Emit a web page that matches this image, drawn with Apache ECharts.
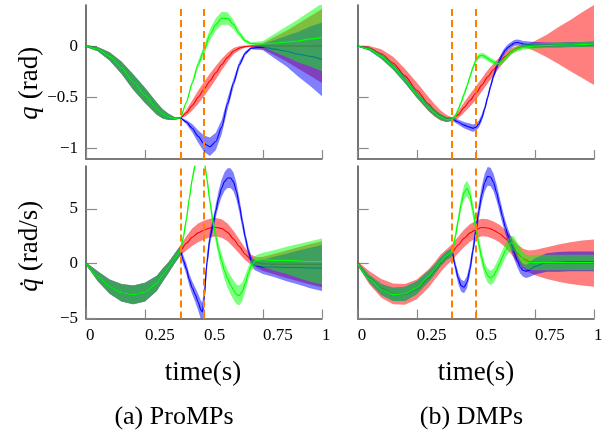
<!DOCTYPE html>
<html>
<head>
<meta charset="utf-8">
<script src="https://cdn.jsdelivr.net/npm/echarts@6/dist/echarts.min.js"></script>
<style>
html,body{margin:0;padding:0;background:#fff;}
#chart{width:611px;height:432px;}
</style>
</head>
<body>
<div id="chart"></div>
<script>
// ---------------- DATA: [time, mean, half-width] ----------------
const timeTicks = [0, 0.25, 0.5, 0.75, 1];
const qTicks = [-1, -0.5, 0];
const qdTicks = [-5, 0, 5];
const dashT = [0.4, 0.5];

// ProMPs, q (rad): identical before the split
const proQ_common = [[0,0,0.01],[0.05,-0.03,0.02],[0.1,-0.10,0.04],[0.15,-0.21,0.06],[0.2,-0.35,0.075],[0.25,-0.48,0.075],[0.3,-0.61,0.06],[0.325,-0.66,0.045],[0.35,-0.69,0.03],[0.375,-0.705,0.015]];
const proQ_red = [[0.4,-0.70,0.005],[0.425,-0.65,0.03],[0.45,-0.58,0.05],[0.475,-0.50,0.065],[0.5,-0.42,0.07],[0.525,-0.34,0.07],[0.55,-0.26,0.065],[0.575,-0.18,0.055],[0.6,-0.11,0.045],[0.625,-0.05,0.03],[0.65,-0.02,0.02],[0.675,-0.005,0.01],[0.7,0,0.008],[0.75,0,0.03],[0.8,0,0.09],[0.85,0,0.15],[0.9,0,0.22],[0.95,0,0.29],[1,0,0.36]];
const proQ_blue = [[0.4,-0.70,0.005],[0.425,-0.74,0.02],[0.45,-0.80,0.04],[0.475,-0.88,0.06],[0.5,-0.95,0.08],[0.525,-0.98,0.09],[0.55,-0.93,0.085],[0.575,-0.79,0.07],[0.6,-0.56,0.055],[0.625,-0.36,0.04],[0.65,-0.18,0.03],[0.675,-0.07,0.02],[0.7,-0.02,0.012],[0.75,-0.01,0.03],[0.8,-0.03,0.09],[0.85,-0.05,0.15],[0.9,-0.08,0.22],[0.95,-0.10,0.29],[1,-0.13,0.36]];
const proQ_green = [[0.4,-0.70,0.005],[0.425,-0.55,0.015],[0.45,-0.36,0.025],[0.475,-0.18,0.035],[0.5,-0.04,0.045],[0.525,0.11,0.055],[0.55,0.21,0.06],[0.575,0.27,0.065],[0.6,0.27,0.06],[0.625,0.21,0.045],[0.65,0.12,0.03],[0.675,0.05,0.02],[0.7,0.025,0.012],[0.75,0.02,0.03],[0.8,0.03,0.09],[0.85,0.04,0.15],[0.9,0.05,0.21],[0.95,0.07,0.27],[1,0.085,0.33]];

// ProMPs, q-dot (rad/s)
const proQd_common = [[0,0,0.1],[0.05,-1.15,0.45],[0.1,-2.1,0.65],[0.15,-2.65,0.8],[0.2,-2.85,0.85],[0.25,-2.6,0.85],[0.3,-1.8,0.7],[0.325,-1.05,0.6],[0.35,-0.35,0.5],[0.375,0.45,0.45]];
const proQd_red = [[0.4,1.2,0.45],[0.425,1.85,0.65],[0.45,2.4,0.8],[0.475,2.8,0.85],[0.5,3.05,0.85],[0.525,3.25,0.85],[0.55,3.32,0.85],[0.575,3.2,0.85],[0.6,2.85,0.8],[0.625,2.25,0.75],[0.65,1.55,0.65],[0.675,0.85,0.55],[0.7,0.35,0.45],[0.725,0.08,0.5],[0.75,-0.02,0.65],[0.8,-0.05,0.95],[0.85,-0.05,1.25],[0.9,-0.05,1.55],[0.95,-0.05,1.85],[1,-0.05,2.1]];
const proQd_blue = [[0.4,1.2,0.45],[0.4125,0.3,0.45],[0.425,-0.45,0.5],[0.4375,-1.45,0.55],[0.45,-2.2,0.6],[0.4625,-2.8,0.65],[0.475,-3.5,0.75],[0.4875,-4.25,0.85],[0.493,-4.4,0.9],[0.5,-3.3,0.85],[0.5125,0.1,0.75],[0.525,2.3,0.6],[0.5375,3.5,0.55],[0.55,4.8,0.6],[0.5625,6.0,0.7],[0.575,6.9,0.8],[0.5875,7.5,0.85],[0.6,7.8,0.9],[0.6125,7.8,0.9],[0.625,7.45,0.85],[0.6375,6.6,0.75],[0.65,5.3,0.65],[0.6625,3.8,0.55],[0.675,2.4,0.45],[0.6875,1.2,0.4],[0.7,0.3,0.4],[0.7125,-0.1,0.45],[0.725,-0.2,0.5],[0.75,-0.3,0.65],[0.8,-0.3,0.95],[0.85,-0.35,1.25],[0.9,-0.35,1.55],[0.95,-0.4,1.85],[1,-0.4,2.1]];
const proQd_green = [[0.4,1.2,0.4],[0.4125,2.4,0.4],[0.425,4.0,0.4],[0.4375,5.9,0.4],[0.45,7.7,0.4],[0.4625,9.0,0.4],[0.475,10.1,0.4],[0.4875,10.4,0.4],[0.5,9.6,0.4],[0.5125,7.7,0.45],[0.525,5.7,0.5],[0.5375,3.9,0.55],[0.55,2.5,0.6],[0.5625,1.2,0.65],[0.575,0.2,0.7],[0.5875,-0.7,0.75],[0.6,-1.4,0.8],[0.6125,-1.95,0.85],[0.625,-2.4,0.9],[0.6375,-2.8,0.9],[0.65,-2.9,0.9],[0.6625,-2.55,0.85],[0.675,-1.8,0.75],[0.6875,-0.9,0.6],[0.7,-0.2,0.5],[0.7125,0.15,0.45],[0.725,0.3,0.5],[0.75,0.35,0.65],[0.8,0.3,0.95],[0.85,0.3,1.25],[0.9,0.25,1.55],[0.95,0.2,1.85],[1,0.2,2.1]];

// DMPs, q (rad)
const dmpQ_common = [[0,0,0.005],[0.05,-0.03,0.015],[0.1,-0.10,0.025],[0.15,-0.20,0.03],[0.2,-0.33,0.03],[0.25,-0.47,0.03],[0.3,-0.60,0.03],[0.325,-0.65,0.03],[0.35,-0.69,0.028],[0.375,-0.715,0.025]];
const dmpQ_redPre = [[0,0,0.005],[0.05,-0.02,0.02],[0.1,-0.075,0.045],[0.15,-0.165,0.06],[0.2,-0.29,0.07],[0.25,-0.43,0.075],[0.3,-0.565,0.07],[0.325,-0.625,0.06],[0.35,-0.675,0.05],[0.375,-0.705,0.035]];
const dmpQ_red = [[0.4,-0.71,0.015],[0.425,-0.67,0.035],[0.45,-0.60,0.05],[0.475,-0.53,0.06],[0.5,-0.46,0.065],[0.525,-0.38,0.065],[0.55,-0.30,0.065],[0.575,-0.23,0.06],[0.6,-0.16,0.05],[0.625,-0.10,0.04],[0.65,-0.05,0.03],[0.675,-0.02,0.02],[0.7,-0.005,0.015],[0.725,0,0.025],[0.75,0,0.05],[0.8,0,0.11],[0.85,0.005,0.18],[0.9,0.005,0.25],[0.95,0.01,0.32],[1,0.01,0.39]];
const dmpQ_blue = [[0.4,-0.71,0.02],[0.425,-0.74,0.025],[0.45,-0.77,0.03],[0.475,-0.79,0.035],[0.4875,-0.80,0.035],[0.5,-0.79,0.035],[0.5125,-0.76,0.035],[0.525,-0.70,0.035],[0.5375,-0.61,0.03],[0.55,-0.50,0.03],[0.5625,-0.39,0.03],[0.575,-0.29,0.03],[0.5875,-0.21,0.03],[0.6,-0.14,0.03],[0.6125,-0.08,0.03],[0.625,-0.04,0.03],[0.6375,-0.01,0.03],[0.65,0.01,0.03],[0.6625,0.03,0.03],[0.675,0.035,0.03],[0.6875,0.03,0.03],[0.7,0.02,0.03],[0.75,0.01,0.03],[0.8,0.01,0.025],[0.85,0.01,0.025],[0.9,0.015,0.025],[0.95,0.015,0.025],[1,0.02,0.025]];
const dmpQ_green = [[0.4,-0.71,0.02],[0.4125,-0.69,0.02],[0.425,-0.62,0.025],[0.4375,-0.55,0.025],[0.45,-0.47,0.025],[0.4625,-0.39,0.025],[0.475,-0.30,0.025],[0.4875,-0.21,0.025],[0.5,-0.14,0.025],[0.5125,-0.10,0.025],[0.525,-0.09,0.025],[0.5375,-0.10,0.025],[0.55,-0.12,0.025],[0.5625,-0.14,0.025],[0.575,-0.155,0.025],[0.5875,-0.17,0.025],[0.6,-0.17,0.025],[0.6125,-0.15,0.025],[0.625,-0.12,0.025],[0.6375,-0.09,0.025],[0.65,-0.06,0.025],[0.6625,-0.04,0.025],[0.675,-0.03,0.025],[0.6875,-0.02,0.025],[0.7,-0.01,0.025],[0.75,0,0.025],[0.8,0.005,0.025],[0.85,0.01,0.025],[0.9,0.01,0.025],[0.95,0.015,0.025],[1,0.02,0.025]];

// DMPs, q-dot (rad/s)
const dmpQd_common = [[0,0,0.15],[0.05,-1.4,0.35],[0.1,-2.35,0.5],[0.15,-2.8,0.6],[0.2,-2.75,0.65],[0.25,-2.2,0.6],[0.3,-1.15,0.5],[0.325,-0.55,0.45],[0.35,0.15,0.4],[0.375,0.7,0.4]];
const dmpQd_redPre = [[0,0,0.2],[0.05,-1.3,0.6],[0.1,-2.25,0.85],[0.15,-2.75,0.95],[0.2,-2.8,0.95],[0.25,-2.35,0.9],[0.3,-1.35,0.85],[0.325,-0.7,0.8],[0.35,0.0,0.8],[0.375,0.55,0.75]];
const dmpQd_red = [[0.4,1.05,0.75],[0.425,1.7,0.75],[0.45,2.3,0.8],[0.475,2.8,0.8],[0.5,3.1,0.8],[0.525,3.3,0.8],[0.55,3.25,0.8],[0.575,3.05,0.8],[0.6,2.75,0.8],[0.625,2.3,0.8],[0.65,1.65,0.8],[0.675,0.95,0.85],[0.7,0.45,0.9],[0.725,0.2,1.0],[0.75,0.1,1.15],[0.8,0.05,1.45],[0.85,0.05,1.7],[0.9,0.05,1.9],[0.95,0.05,2.05],[1,0.05,2.15]];
const dmpQd_blue = [[0.4,1.05,0.4],[0.4125,-0.2,0.45],[0.425,-1.3,0.5],[0.4375,-2.0,0.55],[0.45,-2.15,0.55],[0.4625,-1.7,0.55],[0.475,-0.5,0.55],[0.4875,1.2,0.6],[0.5,3.0,0.65],[0.5125,4.8,0.7],[0.525,6.3,0.75],[0.5375,7.4,0.8],[0.55,7.95,0.85],[0.5625,7.9,0.85],[0.575,7.4,0.8],[0.5875,6.5,0.75],[0.6,5.4,0.7],[0.6125,4.3,0.65],[0.625,3.3,0.6],[0.6375,2.5,0.6],[0.65,1.8,0.6],[0.6625,1.0,0.6],[0.675,0.3,0.6],[0.6875,-0.3,0.6],[0.7,-0.6,0.6],[0.7125,-0.7,0.6],[0.725,-0.6,0.65],[0.75,-0.25,0.75],[0.8,0.1,0.85],[0.85,0.15,0.9],[0.9,0.2,0.9],[0.95,0.2,0.9],[1,0.2,0.9]];
const dmpQd_green = [[0.4,1.05,0.4],[0.4125,2.4,0.45],[0.425,3.9,0.5],[0.4375,5.4,0.55],[0.45,6.5,0.65],[0.4625,6.85,0.7],[0.475,6.3,0.7],[0.4875,4.9,0.65],[0.5,3.3,0.6],[0.5125,1.8,0.6],[0.525,0.5,0.6],[0.5375,-0.5,0.6],[0.55,-1.1,0.65],[0.5625,-1.3,0.65],[0.575,-1.1,0.65],[0.5875,-0.6,0.65],[0.6,0.0,0.65],[0.6125,0.6,0.65],[0.625,1.2,0.65],[0.6375,1.6,0.65],[0.65,1.9,0.65],[0.6625,1.8,0.65],[0.675,1.3,0.65],[0.6875,0.8,0.65],[0.7,0.4,0.65],[0.7125,0.2,0.65],[0.725,0.1,0.65],[0.75,0.1,0.7],[0.8,0.1,0.7],[0.85,0.1,0.7],[0.9,0.1,0.7],[0.95,0.1,0.7],[1,0.1,0.7]];

// ---------------- LAYOUT ----------------
const FONT = 'Liberation Serif';
const COLORS = {red: '#ff0000', blue: '#0000ff', green: '#00ff00'};
const BAND = {red: 'rgba(255,0,0,0.5)', blue: 'rgba(0,0,255,0.5)', green: 'rgba(0,255,0,0.5)'};

const panels = [
  {grid: {left: 86, top: 5, width: 236, height: 154}, ymin: -1.1, ymax: 0.4, ticks: qTicks, xLab: false, yLab: true,
   red: proQ_common.concat(proQ_red), blue: proQ_common.concat(proQ_blue), green: proQ_common.concat(proQ_green)},
  {grid: {left: 357.7, top: 5, width: 236.3, height: 154}, ymin: -1.1, ymax: 0.4, ticks: qTicks, xLab: false, yLab: false,
   red: dmpQ_redPre.concat(dmpQ_red), blue: dmpQ_common.concat(dmpQ_blue), green: dmpQ_common.concat(dmpQ_green)},
  {grid: {left: 86, top: 166, width: 236, height: 152.5}, ymin: -5, ymax: 8.9, ticks: qdTicks, xLab: true, yLab: true,
   red: proQd_common.concat(proQd_red), blue: proQd_common.concat(proQd_blue), green: proQd_common.concat(proQd_green)},
  {grid: {left: 357.7, top: 166, width: 236.3, height: 152.5}, ymin: -5, ymax: 8.9, ticks: qdTicks, xLab: true, yLab: false,
   red: dmpQd_redPre.concat(dmpQd_red), blue: dmpQd_common.concat(dmpQd_blue), green: dmpQd_common.concat(dmpQd_green)}
];

const fmt = v => String(v).replace('-', '\u2212');
const axisLineStyle = {color: '#505050', width: 1.6};
const tickStyle = {color: '#8a8a8a', width: 1.2};

const grids = [], xAxes = [], yAxes = [], series = [];

function bandSeries(gi, pts, color, z) {
  return {
    type: 'custom', xAxisIndex: gi, yAxisIndex: gi, z: z, clip: true, silent: true,
    data: pts.map(p => [p[0], p[1] - p[2], p[1] + p[2]]),
    encode: {x: 0, y: [1, 2]},
    renderItem: function (params, api) {
      if (params.dataIndex !== 0) return null;
      const up = pts.map(p => api.coord([p[0], p[1] + p[2]]));
      const lo = pts.map(p => api.coord([p[0], p[1] - p[2]])).reverse();
      return {type: 'polygon', shape: {points: up.concat(lo)}, style: {fill: color, stroke: null}};
    }
  };
}
function lineSeries(gi, pts, color, z) {
  return {
    type: 'line', xAxisIndex: gi, yAxisIndex: gi, z: z, silent: true,
    data: pts.map(p => [p[0], p[1]]),
    showSymbol: false, symbol: 'none', smooth: 0.25, smoothMonotone: 'x',
    lineStyle: {color: color, width: 1.1}
  };
}

panels.forEach((p, gi) => {
  grids.push(Object.assign({containLabel: false}, p.grid));
  xAxes.push({
    type: 'value', gridIndex: gi, min: 0, max: 1, interval: 0.25,
    axisLine: {show: true, onZero: false, lineStyle: axisLineStyle},
    axisTick: {show: true, inside: true, length: 9, lineStyle: tickStyle, customValues: timeTicks},
    axisLabel: {show: p.xLab, customValues: timeTicks, align: 'left', margin: 9, color: '#000',
                fontFamily: FONT, fontSize: 17, formatter: fmt, showMinLabel: true, showMaxLabel: true},
    splitLine: {show: false}
  });
  yAxes.push({
    type: 'value', gridIndex: gi, min: p.ymin, max: p.ymax,
    axisLine: {show: true, onZero: false, lineStyle: axisLineStyle},
    axisTick: {show: true, inside: true, length: 11, lineStyle: tickStyle, customValues: p.ticks},
    axisLabel: {show: p.yLab, customValues: p.ticks, margin: 8, color: '#000',
                fontFamily: FONT, fontSize: 17, formatter: fmt},
    splitLine: {show: false}
  });
  series.push(bandSeries(gi, p.red, BAND.red, 1));
  series.push(lineSeries(gi, p.red, COLORS.red, 2));
  series.push(bandSeries(gi, p.blue, BAND.blue, 3));
  series.push(lineSeries(gi, p.blue, COLORS.blue, 4));
  series.push(bandSeries(gi, p.green, BAND.green, 5));
  const g = lineSeries(gi, p.green, COLORS.green, 6);
  g.markLine = {
    silent: true, symbol: ['none', 'none'], z: 20, animation: false,
    label: {show: false},
    lineStyle: {color: '#ff8000', width: 2, type: [7, 4]},
    data: dashT.map(t => ({xAxis: t}))
  };
  series.push(g);
});

function txt(x, y, text, size, rot, italicStyle) {
  const style = {text: text, fontFamily: FONT, fontSize: size, fill: '#000', align: 'center', verticalAlign: 'middle'};
  if (italicStyle) style.fontStyle = 'italic';
  const el = {type: 'text', x: x, y: y, style: style};
  if (rot) el.rotation = rot;
  return el;
}
const R = Math.PI / 2;
const graphic = [
  txt(30, 113, 'q', 27, R, true),
  txt(30, 73, '(rad)', 27, R),
  txt(30, 285, 'q\u0307', 27, R, true),
  txt(30, 236, '(rad/s)', 27, R),
  txt(203, 373, 'time(s)', 27),
  txt(476, 373, 'time(s)', 27),
  txt(174, 417, '(a) ProMPs', 26),
  txt(471.5, 417, '(b) DMPs', 26)
];

const chart = echarts.init(document.getElementById('chart'), null, {renderer: 'canvas'});
chart.setOption({
  animation: false,
  backgroundColor: '#fff',
  grid: grids, xAxis: xAxes, yAxis: yAxes, series: series, graphic: graphic
});
</script>
</body>
</html>
